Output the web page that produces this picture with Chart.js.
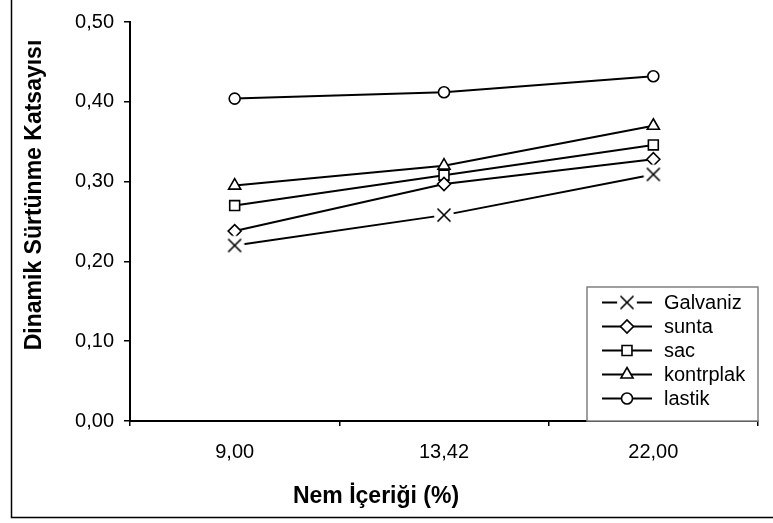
<!DOCTYPE html>
<html>
<head>
<meta charset="utf-8">
<script src="https://cdn.jsdelivr.net/npm/chart.js@4/dist/chart.umd.min.js"></script>
<style>
  html, body { margin: 0; padding: 0; background: #fff; }
  #wrap { width: 773px; height: 523px; }
</style>
</head>
<body>
<div id="wrap"><canvas id="chart" width="773" height="523"></canvas></div>
<script>
const categories = ["9,00", "13,42", "22,00"];
const galvaniz  = [0.220, 0.258, 0.309];
const sunta     = [0.238, 0.297, 0.328];
const sac       = [0.270, 0.308, 0.346];
const kontrplak = [0.295, 0.320, 0.370];
const lastik    = [0.404, 0.412, 0.432];
const yTicks = [0, 0.1, 0.2, 0.3, 0.4, 0.5];

const FONT = "'Liberation Sans', Arial, sans-serif";

// X marker with a white patch behind it, like the Excel one
function crossMarker() {
    const c = document.createElement("canvas");
    c.width = 22; c.height = 22;
    const g = c.getContext("2d");
    g.fillStyle = "#fff";
    g.beginPath();
    g.arc(11, 11, 10, 0, Math.PI * 2);
    g.fill();
    g.strokeStyle = "#000";
    g.lineWidth = 1.6;
    g.beginPath();
    g.moveTo(4.5, 4.5); g.lineTo(17.5, 17.5);
    g.moveTo(17.5, 4.5); g.lineTo(4.5, 17.5);
    g.stroke();
    return c;
}
const xMark = crossMarker();

function series(label, data, style, radius) {
    return {
        label: label,
        data: data,
        borderColor: "#000",
        borderWidth: 2,
        pointStyle: style,
        pointRadius: radius,
        pointBackgroundColor: "#fff",
        pointBorderColor: "#000",
        pointBorderWidth: 1.6,
        tension: 0
    };
}

const outerFrame = {
    id: "outerFrame",
    afterDraw(chart) {
        const ctx = chart.ctx;
        ctx.save();
        ctx.strokeStyle = "#000";
        ctx.lineWidth = 1.5;
        ctx.beginPath();
        ctx.moveTo(11.5, 0);
        ctx.lineTo(11.5, 517.5);
        ctx.lineTo(773, 517.5);
        ctx.stroke();

        // axis titles
        ctx.fillStyle = "#000";
        ctx.font = "bold 23px " + FONT;
        ctx.textAlign = "center";
        ctx.textBaseline = "middle";
        ctx.fillText("Nem İçeriği (%)", 376, 497);
        ctx.translate(35, 195);
        ctx.rotate(-Math.PI / 2);
        ctx.fillText("Dinamik Sürtünme Katsayısı", 0, 0);
        ctx.restore();
    }
};

const boxLegend = {
    id: "boxLegend",
    afterDatasetsDraw(chart) {
        const ctx = chart.ctx;
        const area = chart.chartArea;
        const left = 587, top = 287;
        ctx.save();
        ctx.fillStyle = "#fff";
        ctx.fillRect(left, top, area.right - left, area.bottom - top);
        ctx.strokeStyle = "#808080";
        ctx.lineWidth = 1.5;
        ctx.strokeRect(left, top, area.right - left, area.bottom - top);
        chart.data.datasets.forEach((ds, i) => {
            const y = 302.5 + i * 24;
            ctx.strokeStyle = "#000";
            ctx.lineWidth = 2;
            ctx.beginPath();
            ctx.moveTo(602, y);
            ctx.lineTo(652, y);
            ctx.stroke();
            ctx.fillStyle = "#fff";
            ctx.strokeStyle = "#000";
            ctx.lineWidth = 1.6;
            Chart.helpers.drawPoint(ctx, {
                pointStyle: ds.pointStyle,
                radius: ds.pointRadius,
                rotation: 0,
                borderWidth: 1.6
            }, 627, y);
            ctx.fillStyle = "#000";
            ctx.font = "20px " + FONT;
            ctx.textAlign = "left";
            ctx.textBaseline = "middle";
            ctx.fillText(ds.label, 664, y + 1);
        });
        ctx.restore();
    }
};

new Chart(document.getElementById("chart"), {
    type: "line",
    data: {
        labels: categories,
        datasets: [
            series("Galvaniz", galvaniz, xMark, 9),
            series("sunta", sunta, "rectRot", 6.5),
            series("sac", sac, "rect", 7),
            series("kontrplak", kontrplak, "triangle", 7),
            series("lastik", lastik, "circle", 5.5)
        ]
    },
    options: {
        responsive: false,
        animation: false,
        events: [],
        layout: { padding: { left: 0, right: 15, top: 22, bottom: 0 } },
        plugins: {
            legend: { display: false },
            tooltip: { enabled: false }
        },
        scales: {
            x: {
                offset: true,
                grid: {
                    offset: true,
                    drawOnChartArea: false,
                    tickLength: 5,
                    color: "#000",
                    lineWidth: 1.5
                },
                border: { color: "#000", width: 2 },
                ticks: {
                    color: "#000",
                    padding: 14,
                    maxRotation: 0,
                    font: { family: FONT, size: 20 }
                },
                afterFit(scale) { scale.height = 102; }
            },
            y: {
                min: 0,
                max: 0.5,
                grid: {
                    drawOnChartArea: false,
                    tickLength: 6,
                    color: "#000",
                    lineWidth: 1.5
                },
                border: { color: "#000", width: 2 },
                afterBuildTicks(scale) {
                    scale.ticks = yTicks.map(v => ({ value: v }));
                },
                ticks: {
                    color: "#000",
                    padding: 10,
                    font: { family: FONT, size: 20 },
                    callback: v => v.toFixed(2).replace(".", ",")
                },
                afterFit(scale) { scale.width = 130; }
            }
        }
    },
    plugins: [outerFrame, boxLegend]
});
</script>
</body>
</html>
